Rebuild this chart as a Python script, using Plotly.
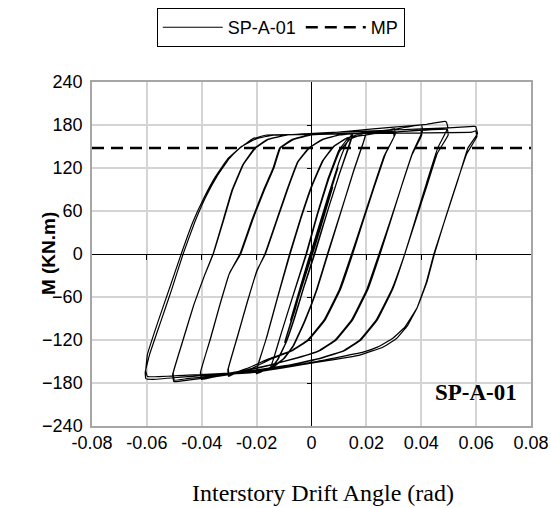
import plotly.graph_objects as go

# drift (rad) / moment (kN.m), loop by loop
drift_elastic = [0, 0.0038, 0.0005, -0.0038, -0.0006, 0.0039, 0.0004, -0.0037, -0.0005,
                 0.0052, 0.0008, -0.0051, -0.0009, 0.0053, 0.0007, -0.0052, -0.0008,
                 0.0076, 0.0013, -0.0075, -0.0014, 0.0077, 0.0012, -0.0076, -0.0013,
                 0.0097, 0.0058, 0.0019, -0.0035, -0.0098, -0.006, -0.0021,
                 0.0035, 0.0096, 0.0057, 0.0018, -0.0036, -0.0097, -0.0059, -0.0022]
moment_elastic = [0, 46, 4, -47, -5, 47, 3, -46, -4,
                  63, 7, -64, -8, 64, 6, -63, -7,
                  92, 12, -93, -11, 93, 10, -92, -10,
                  121, 76, 20, -45, -124, -78, -22,
                  44, 120, 73, 18, -46, -122, -77, -23]

drift_015 = [0.002, 0.006, 0.010, 0.0125, 0.014, 0.015,
             0.0135, 0.010, 0.006, 0.001, -0.003, -0.0065, -0.0095, -0.0125, -0.0145, -0.0152,
             -0.014, -0.011, -0.0065, -0.002, 0.002, 0.006, 0.010, 0.013, 0.015,
             0.0137, 0.0102, 0.0062, 0.0012, -0.0028, -0.0062, -0.0092, -0.0122, -0.0143, -0.0151,
             -0.0138, -0.0108, -0.0063, -0.0018, 0.0022, 0.0062, 0.0102, 0.014, 0.0185]
moment_015 = [30, 80, 128, 152, 163, 168,
              150, 110, 62, 0, -48, -92, -125, -148, -158, -162,
              -148, -110, -55, 0, 55, 105, 145, 160, 166,
              150, 112, 64, 0, -47, -90, -123, -147, -157, -160,
              -146, -108, -53, 0, 55, 104, 143, 160, 167]

drift_02 = [0.02,
            0.0188, 0.0155, 0.011, 0.006, 0.002, -0.0025, -0.0065, -0.010, -0.014, -0.018, -0.0201,
            -0.0195, -0.0165, -0.0125, -0.008, -0.004, 0.0, 0.004, 0.008, 0.013, 0.0199,
            0.0187, 0.0154, 0.0108, 0.0058, 0.0018, -0.0027, -0.0067, -0.0102, -0.0142, -0.0182, -0.02,
            -0.0194, -0.0163, -0.0123, -0.0078, -0.0038, 0.0002, 0.0042, 0.0082, 0.013, 0.020, 0.0262]
moment_02 = [171,
             155, 118, 62, 0, -50, -95, -128, -146, -158, -164, -167,
             -155, -118, -62, 0, 50, 95, 130, 150, 162, 169,
             153, 116, 60, 0, -50, -95, -128, -146, -157, -163, -166,
             -153, -116, -60, 0, 50, 95, 130, 150, 162, 166, 170]

drift_03 = [0.0302,
            0.0305, 0.027, 0.023, 0.019, 0.015, 0.0105, 0.005, -0.001, -0.007, -0.015, -0.022, -0.028, -0.0302,
            -0.0305, -0.027, -0.0235, -0.020, -0.017, -0.0125, -0.009, -0.005, -0.001, 0.004, 0.010, 0.020, 0.0298,
            0.0301, 0.0265, 0.0225, 0.0185, 0.0146, 0.0101, 0.0046, -0.0014, -0.0074, -0.0154, -0.0224, -0.0284, -0.0300,
            -0.0303, -0.0268, -0.0233, -0.0198, -0.0168, -0.0123, -0.0088, -0.0048, -0.0008, 0.0042, 0.0102, 0.020, 0.030]
moment_03 = [175,
             167, 140, 95, 48, 0, -50, -92, -120, -135, -147, -160, -167, -171,
             -162, -115, -68, -25, 0, 50, 89, 129, 148, 160, 166, 169, 171,
             164, 137, 92, 45, 0, -50, -92, -120, -135, -146, -158, -166, -169,
             -160, -113, -66, -22, 0, 50, 89, 129, 148, 160, 166, 170, 174]

drift_04 = [0.0401,
            0.0405, 0.037, 0.033, 0.029, 0.025, 0.0205, 0.015, 0.009, 0.003, -0.005, -0.015, -0.025, -0.035, -0.0401,
            -0.0405, -0.037, -0.0335, -0.030, -0.0261, -0.0215, -0.0175, -0.014, -0.0116, -0.007, -0.001, 0.015, 0.030, 0.0398,
            0.0402, 0.0366, 0.0326, 0.0286, 0.0246, 0.0201, 0.0146, 0.0086, 0.0026, -0.0054, -0.0154, -0.0254, -0.0354, -0.0400,
            -0.0404, -0.0368, -0.0333, -0.0298, -0.0258, -0.0212, -0.0172, -0.0137, -0.0113, -0.0065, 0.0, 0.015, 0.030, 0.042, 0.0485]
moment_04 = [180,
             172, 143, 97, 48, 0, -50, -92, -120, -135, -145, -155, -164, -171, -175,
             -166, -120, -72, -28, 0, 50, 89, 120, 148, 160, 166, 168, 170, 173,
             166, 138, 92, 45, 0, -50, -92, -120, -135, -145, -155, -163, -170, -173,
             -164, -118, -70, -26, 0, 50, 89, 120, 148, 160, 166, 172, 177, 181, 185]

drift_05 = [0.0492,
            0.0497, 0.046, 0.042, 0.038, 0.034, 0.0295, 0.024, 0.018, 0.012, 0.004, -0.008, -0.020, -0.035, -0.045, -0.0502,
            -0.0506, -0.047, -0.043, -0.039, -0.0359, -0.032, -0.029, -0.025, -0.0207, -0.016, -0.009, 0.010, 0.030, 0.0495,
            0.0498, 0.0458, 0.0418, 0.0378, 0.034, 0.0292, 0.0236, 0.0176, 0.0116, 0.0036, -0.0084, -0.0204, -0.0354, -0.0454, -0.050,
            -0.0504, -0.0468, -0.0428, -0.0388, -0.0358, -0.0318, -0.0288, -0.0248, -0.0203, -0.0158, -0.0088, 0.010, 0.030, 0.050, 0.059]
moment_05 = [184,
             176, 148, 100, 50, 0, -50, -92, -120, -135, -145, -155, -163, -171, -176, -178,
             -168, -122, -72, -30, 0, 50, 89, 125, 148, 160, 166, 168, 170, 174,
             166, 140, 92, 45, 0, -50, -92, -120, -135, -145, -155, -162, -170, -174, -176,
             -166, -120, -70, -28, 0, 50, 89, 125, 148, 160, 166, 170, 173, 176, 178]

drift_06 = [0.0598,
            0.0605, 0.057, 0.0535, 0.049, 0.0446, 0.0418, 0.0385, 0.035, 0.031, 0.026, 0.0176, 0.0006, -0.0225, -0.045, -0.058, -0.0604,
            -0.0606, -0.059, -0.055, -0.051, -0.0468, -0.0425, -0.0385, -0.0345, -0.030, -0.0261, -0.0213, -0.0164, 0.0, 0.020, 0.040, 0.0585, 0.0598,
            0.0603, 0.0566, 0.053, 0.0488, 0.0448, 0.042, 0.0385, 0.034, 0.0295, 0.024, 0.0188, 0.0018, -0.0225, -0.045, -0.0598,
            -0.0604, -0.0598, -0.056, -0.0515, -0.0475, -0.0432, -0.039, -0.035, -0.0305, -0.0255, -0.020, -0.014, 0.0]
moment_06 = [178,
             168, 148, 105, 52, 0, -40, -75, -100, -118, -130, -141, -152, -166, -171, -175, -174,
             -165, -140, -95, -50, 0, 45, 80, 108, 133, 148, 161, 166, 167, 168, 169, 170, 172,
             164, 140, 100, 50, 0, -40, -75, -102, -118, -130, -137, -150, -164, -169, -171,
             -163, -140, -95, -45, 0, 45, 80, 108, 133, 150, 161, 166, 167]

MP = 148
MP_X = [-0.08, 0.08]

X_TICKS = [-0.08, -0.06, -0.04, -0.02, 0, 0.02, 0.04, 0.06, 0.08]
X_LABELS = ['-0.08', '-0.06', '-0.04', '-0.02', '0', '0.02', '0.04', '0.06', '0.08']
Y_TICKS = [-240, -180, -120, -60, 0, 60, 120, 180, 240]

drift = drift_elastic + drift_015 + drift_02 + drift_03 + drift_04 + drift_05 + drift_06
moment = moment_elastic + moment_015 + moment_02 + moment_03 + moment_04 + moment_05 + moment_06

SANS = 'Liberation Sans, Arial, sans-serif'
SERIF = 'Liberation Serif, Times New Roman, serif'
GRID = '#d4d4d4'

fig = go.Figure()
fig.add_trace(go.Scatter(
    x=drift, y=moment, mode='lines', name='SP-A-01',
    line=dict(color='black', width=1.2, shape='spline', smoothing=0.25)))
fig.add_trace(go.Scatter(
    x=MP_X, y=[MP, MP], mode='lines', name='MP',
    line=dict(color='black', width=2.5, dash='12px,7px')))
# empty trace so the zero-line tick axes get drawn
fig.add_trace(go.Scatter(x=[], y=[], xaxis='x2', yaxis='y2', showlegend=False))

fig.update_layout(
    width=551, height=508,
    paper_bgcolor='white', plot_bgcolor='white',
    font=dict(family=SANS, size=18, color='black'),
    margin=dict(l=92, r=20, t=82, b=82, autoexpand=False),
    showlegend=True,
    legend=dict(orientation='h', x=0.43, xanchor='center', y=1.215, yanchor='top',
                bordercolor='black', borderwidth=1, bgcolor='white', itemwidth=60,
                font=dict(family=SANS, size=18, color='black')),
    xaxis=dict(range=[-0.08, 0.08], tickvals=X_TICKS, ticktext=X_LABELS,
               showgrid=True, gridcolor=GRID, gridwidth=1.5,
               zeroline=True, zerolinecolor='black', zerolinewidth=1,
               showline=True, linecolor='#a6a6a6', linewidth=1.5, mirror=True,
               ticks='', tickfont=dict(size=18), automargin=False),
    yaxis=dict(range=[-240, 240], tickvals=Y_TICKS,
               showgrid=True, gridcolor=GRID, gridwidth=1.5,
               zeroline=True, zerolinecolor='black', zerolinewidth=1,
               showline=True, linecolor='#a6a6a6', linewidth=1.5, mirror=True,
               ticks='', tickfont=dict(size=18), ticklabelstandoff=4, automargin=False),
    xaxis2=dict(overlaying='x', anchor='free', position=0.5, range=[-0.08, 0.08],
                tickvals=X_TICKS[1:-1], ticks='outside', ticklen=5, tickcolor='black',
                showticklabels=False, showgrid=False, zeroline=False, showline=False),
    yaxis2=dict(overlaying='y', anchor='free', position=0.5, range=[-240, 240],
                tickvals=Y_TICKS[1:-1], ticks='outside', ticklen=5, tickcolor='black',
                showticklabels=False, showgrid=False, zeroline=False, showline=False),
    annotations=[
        dict(text='<b>M (KN.m)</b>', xref='paper', yref='paper', x=-0.1, y=0.5,
             xanchor='center', yanchor='middle',
             textangle=-90, showarrow=False, font=dict(family=SANS, size=19)),
        dict(text='Interstory Drift Angle (rad)', xref='paper', yref='paper',
             x=0.526, y=-0.195, xanchor='center', yanchor='middle',
             showarrow=False, font=dict(family=SERIF, size=24)),
        dict(text='<b>SP-A-01</b>', xref='x', yref='y', x=0.06, y=-193,
             showarrow=False, font=dict(family=SERIF, size=23)),
    ],
)

# drop the browser's default 8px body margin so the figure fills the window exactly
fig.write_html('out.html', config={'displayModeBar': False},
               post_script="document.body.style.margin='0px';")
